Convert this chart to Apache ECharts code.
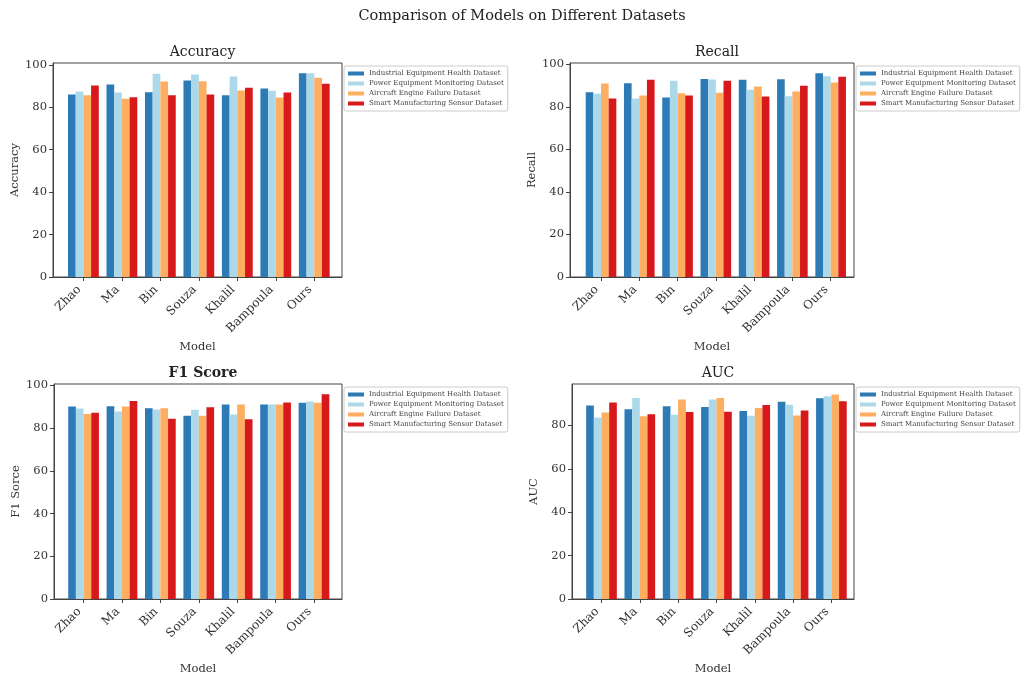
<!DOCTYPE html>
<html>
<head>
<meta charset="utf-8">
<script src="https://cdn.jsdelivr.net/npm/echarts@6/dist/echarts.min.js"></script>
<style>
  html, body { margin: 0; padding: 0; background: #fff; }
  #grafico { width: 1031px; height: 679px; }
</style>
</head>
<body>
<div id="grafico"></div>
<script>
/* dados */
var models = ['Zhao', 'Ma', 'Bin', 'Souza', 'Khalil', 'Bampoula', 'Ours'];
var datasets = [
    'Industrial Equipment Health Dataset',
    'Power Equipment Monitoring Dataset',
    'Aircraft Engine Failure Dataset',
    'Smart Manufacturing Sensor Dataset'
];
var colors = ['#2c7bb6', '#abd9e9', '#fdae61', '#d7191c'];

// Accuracy, uma lista por dataset
var accIndustrial = [86.0, 90.8, 87.1, 92.6, 85.7, 88.9, 96.1];
var accPower      = [87.5, 87.0, 95.8, 95.5, 94.5, 87.8, 96.1];
var accAircraft   = [85.7, 84.0, 92.2, 92.3, 87.9, 84.6, 94.0];
var accSmart      = [90.3, 84.8, 85.7, 86.0, 89.2, 87.0, 91.1];

// Recall
var recIndustrial = [86.9, 91.1, 84.4, 93.1, 92.7, 93.0, 95.8];
var recPower      = [86.1, 83.9, 92.2, 92.8, 88.0, 85.0, 94.4];
var recAircraft   = [91.0, 85.3, 86.4, 86.6, 89.5, 87.2, 91.4];
var recSmart      = [83.9, 92.7, 85.3, 92.2, 84.9, 89.9, 94.1];

// F1 Score
var f1Industrial = [90.2, 90.3, 89.4, 85.8, 91.1, 91.1, 91.9];
var f1Power      = [89.2, 87.8, 88.8, 88.6, 86.4, 91.1, 92.5];
var f1Aircraft   = [86.7, 90.2, 89.4, 85.8, 91.1, 91.1, 91.9];
var f1Smart      = [87.2, 92.7, 84.4, 89.8, 84.2, 92.0, 95.9];

// AUC
var aucIndustrial = [89.2, 87.5, 88.8, 88.5, 86.6, 90.9, 92.5];
var aucPower      = [83.7, 92.6, 84.9, 92.0, 84.5, 89.5, 93.5];
var aucAircraft   = [86.0, 84.2, 92.0, 92.6, 88.0, 84.6, 94.3];
var aucSmart      = [90.6, 85.1, 86.2, 86.3, 89.4, 86.9, 91.2];

var xTicks = [0, 1, 2, 3, 4, 5, 6];
var ticksFull = [0, 20, 40, 60, 80, 100];
var ticksAuc = [0, 20, 40, 60, 80];

var painels = [
    { title: 'Accuracy', yName: 'Accuracy', bold: false, max: 100.9, ticks: ticksFull,
      xMin: -0.79, xMax: 6.72,
      values: [accIndustrial, accPower, accAircraft, accSmart],
      grid: { left: 53, top: 63, width: 289, height: 214 } },
    { title: 'Recall', yName: 'Recall', bold: false, max: 100.6, ticks: ticksFull,
      xMin: -0.81, xMax: 6.61,
      values: [recIndustrial, recPower, recAircraft, recSmart],
      grid: { left: 570, top: 63, width: 284, height: 214 } },
    { title: 'F1 Score', yName: 'F1 Sorce', bold: true, max: 100.7, ticks: ticksFull,
      xMin: -0.77, xMax: 6.73,
      values: [f1Industrial, f1Power, f1Aircraft, f1Smart],
      grid: { left: 54, top: 384, width: 288, height: 215 } },
    { title: 'AUC', yName: 'AUC', bold: false, max: 99.1, ticks: ticksAuc,
      xMin: -0.77, xMax: 6.59,
      values: [aucIndustrial, aucPower, aucAircraft, aucSmart],
      grid: { left: 572, top: 384, width: 282, height: 215 } }
];

var fonte = '"DejaVu Serif", "Liberation Serif", serif';
var cinza = '#333';

var dom = document.getElementById('grafico');
var myChart = echarts.init(dom);

var titles = [{
    text: 'Comparison of Models on Different Datasets',
    left: 517, top: 4, textAlign: 'center',
    textStyle: { fontFamily: fonte, fontSize: 14.5, fontWeight: 'normal', color: '#222' }
}];
var grids = [], xAxes = [], yAxes = [], series = [], legends = [];

painels.forEach(function (p, k) {
    var g = p.grid;
    // largura de barra = 0.2 unidade do eixo x, como no matplotlib
    var larguraBarra = 0.2 * g.width / (p.xMax - p.xMin);
    grids.push({
        left: g.left, top: g.top, width: g.width, height: g.height,
        show: true, borderColor: '#444', borderWidth: 1, backgroundColor: 'transparent'
    });
    titles.push({
        text: p.title, left: g.left + g.width / 2, top: g.top - 23, textAlign: 'center',
        textStyle: { fontFamily: fonte, fontSize: 14, fontWeight: p.bold ? 'bold' : 'normal', color: '#222' }
    });
    xAxes.push({
        type: 'value', gridIndex: k, min: p.xMin, max: p.xMax,
        name: 'Model', nameLocation: 'middle', nameGap: 64,
        nameTextStyle: { fontFamily: fonte, fontSize: 11.5, color: cinza },
        splitLine: { show: false },
        axisLine: { show: true, onZero: false, lineStyle: { color: '#444' } },
        axisTick: { show: true, length: 4, customValues: xTicks, lineStyle: { color: '#444' } },
        axisLabel: {
            customValues: xTicks, rotate: 45, margin: 15,
            align: 'right', verticalAlign: 'bottom',
            fontFamily: fonte, fontSize: 12, color: cinza,
            formatter: function (v) { return models[Math.round(v)]; }
        }
    });
    yAxes.push({
        type: 'value', gridIndex: k, min: 0, max: p.max,
        name: p.yName, nameLocation: 'middle', nameGap: 32,
        nameTextStyle: { fontFamily: fonte, fontSize: 11.5, color: cinza },
        splitLine: { show: false },
        axisLine: { show: true, onZero: false, lineStyle: { color: '#444' } },
        axisTick: { show: true, length: 4, customValues: p.ticks, lineStyle: { color: '#444' } },
        axisLabel: { customValues: p.ticks, margin: 6, fontFamily: fonte, fontSize: 11.5, color: cinza }
    });
    p.values.forEach(function (vals, s) {
        series.push({
            name: datasets[s], type: 'bar', xAxisIndex: k, yAxisIndex: k,
            data: vals.map(function (v, i) { return [i, v]; }),
            barWidth: larguraBarra, barGap: '0%',
            itemStyle: { color: colors[s] },
            emphasis: { disabled: true }
        });
    });
    legends.push({
        data: datasets, orient: 'vertical',
        left: g.left + g.width + 2, top: g.top + 3,
        itemWidth: 16, itemHeight: 4, itemGap: 1,
        padding: [3, 4, 3, 4],
        backgroundColor: '#fff', borderColor: '#ccc', borderWidth: 1, borderRadius: 2,
        icon: 'rect',
        textStyle: { fontFamily: fonte, fontSize: 7, lineHeight: 9, color: '#444' }
    });
});

var option = {
    animation: false,
    backgroundColor: '#fff',
    title: titles,
    grid: grids,
    xAxis: xAxes,
    yAxis: yAxes,
    legend: legends,
    series: series
};

if (option && typeof option === 'object') {
    myChart.setOption(option, true);
}
</script>
</body>
</html>
